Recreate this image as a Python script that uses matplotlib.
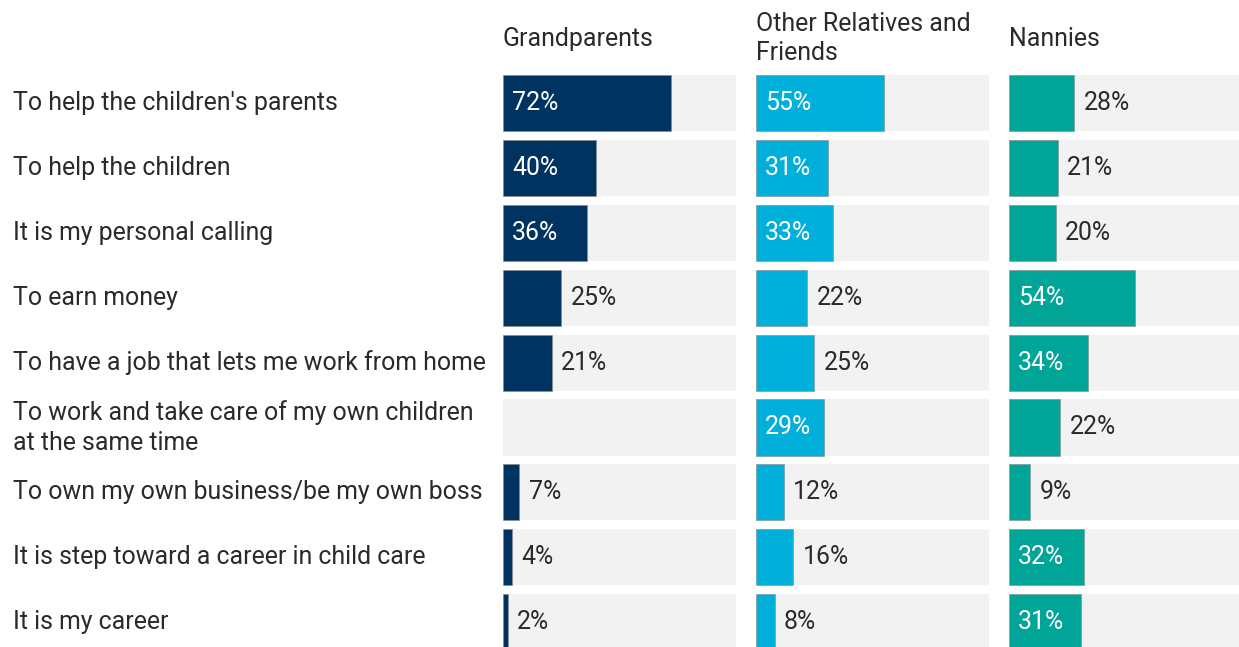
import numpy as np
import matplotlib.pyplot as plt
from matplotlib.transforms import blended_transform_factory

plt.rcParams["font.family"] = ["Roboto", "DejaVu Sans"]

reasons = [
    "To help the children's parents",
    "To help the children",
    "It is my personal calling",
    "To earn money",
    "To have a job that lets me work from home",
    "To work and take care of my own children\nat the same time",
    "To own my own business/be my own boss",
    "It is step toward a career in child care",
    "It is my career",
]
groups = ["Grandparents", "Other Relatives and\nFriends", "Nannies"]
grandparents = [72, 40, 36, 25, 21, np.nan, 7, 4, 2]
other_relatives = [55, 31, 33, 22, 25, 29, 12, 16, 8]
nannies = [28, 21, 20, 54, 34, 22, 9, 32, 31]
# which values are printed inside their bar
grandparents_inside = [1, 1, 1, 0, 0, 0, 0, 0, 0]
other_inside = [1, 1, 1, 0, 0, 1, 0, 0, 0]
nannies_inside = [0, 0, 0, 1, 1, 0, 0, 1, 1]

series = [grandparents, other_relatives, nannies]
inside = [grandparents_inside, other_inside, nannies_inside]
colors = ["#00335f", "#00b0db", "#00a597"]
TEXT = "#2a2a2a"
FS = 17.9

fig = plt.figure(figsize=(12.39, 6.47), dpi=100)
W, H = 1239, 647
pitch = 64.9
top_px = 103 - pitch / 2
ax_h = pitch * 9
lefts = [503, 756, 1009]
bar_h = 0.863

y = np.arange(len(reasons))
for k, (vals, flags, col) in enumerate(zip(series, inside, colors)):
    ax = fig.add_axes([lefts[k] / W, (H - top_px - ax_h) / H, 233 / W, ax_h / H])
    ax.barh(y, 100, height=bar_h, color="#f2f2f2", zorder=1)
    vals = np.array(vals, dtype=float)
    ok = ~np.isnan(vals)
    ax.barh(y[ok], vals[ok], height=bar_h, color=col, edgecolor="#8a8a8a",
            linewidth=0.4, zorder=2)
    for i, v in enumerate(vals):
        if np.isnan(v):
            continue
        if flags[i]:
            ax.text(4.0, i, f"{v:.0f}%", color="white", va="center",
                    ha="left", fontsize=FS, zorder=3)
        else:
            ax.text(v + 4.0, i, f"{v:.0f}%", color=TEXT, va="center",
                    ha="left", fontsize=FS, zorder=3)
    ax.set_xlim(0, 100)
    ax.set_ylim(len(reasons) - 0.5, -0.5)
    ax.axis("off")
    ax.text(0, -0.5 - 32 / pitch, groups[k], color=TEXT, fontsize=FS,
            ha="left", va="center", linespacing=1.3)

    if k == 0:
        tr = blended_transform_factory(fig.transFigure, ax.transData)
        for i, r in enumerate(reasons):
            fig.text(13 / W, i, r, transform=tr, color=TEXT, fontsize=FS,
                     ha="left", va="center", linespacing=1.35)

fig.savefig("out.png", dpi=100)
